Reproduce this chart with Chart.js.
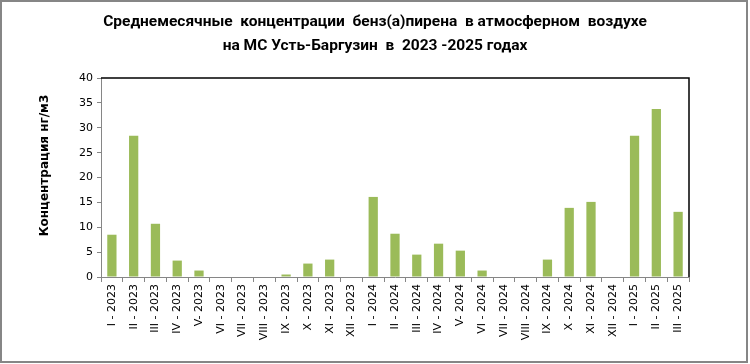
<!DOCTYPE html>
<html lang="ru">
<head>
    <meta charset="UTF-8">
    <title>Бенз(а)пирен Усть-Баргузин</title>
    <script src="https://cdn.jsdelivr.net/npm/chart.js"></script>
    <style>
        html, body { margin: 0; padding: 0; background: #fff; }
        .chart-container { position: relative; width: 750px; height: 364px; }
    </style>
</head>
<body>
    <div class="chart-container">
        <canvas id="bapChart"></canvas>
    </div>

    <script>
        const months = ['I - 2023', 'II - 2023', 'III - 2023', 'IV - 2023', 'V- 2023', 'VI - 2023',
            'VII - 2023', 'VIII - 2023', 'IX - 2023', 'X - 2023', 'XI - 2023', 'XII - 2023',
            'I - 2024', 'II - 2024', 'III - 2024', 'IV - 2024', 'V- 2024', 'VI - 2024',
            'VII - 2024', 'VIII - 2024', 'IX - 2024', 'X - 2024', 'XI - 2024', 'XII - 2024',
            'I - 2025', 'II - 2025', 'III - 2025'];
        const concentration = [8.5, 28.4, 10.7, 3.3, 1.3, 0, 0, 0, 0.5, 2.7, 3.5, 0,
            16.1, 8.7, 4.5, 6.7, 5.3, 1.3, 0, 0, 3.5, 13.9, 15.1, 0,
            28.4, 33.8, 13.1];
        const yTicks = [0, 5, 10, 15, 20, 25, 30, 35, 40];
        const titleLines = ['Среднемесячные  концентрации  бенз(а)пирена  в атмосферном  воздухе',
            'на МС Усть-Баргузин  в  2023 -2025 годах'];
        const yTitle = 'Концентрация нг/м3';

        // plot frame (black top/right), y-axis title and the outer border
        const framePlugin = {
            id: 'frame',
            afterDraw(chart) {
                const { ctx, chartArea: a } = chart;
                ctx.save();
                ctx.strokeStyle = '#000';
                ctx.lineWidth = 1.5;
                ctx.beginPath();
                ctx.moveTo(a.left, a.top);
                ctx.lineTo(a.right, a.top);
                ctx.lineTo(a.right, a.bottom);
                ctx.stroke();

                // axis title sits a bit above the plot centre, like in Excel
                ctx.translate(45, (a.top + a.bottom) / 2 - 12);
                ctx.rotate(-Math.PI / 2);
                ctx.font = 'bold 12px "DejaVu Sans"';
                ctx.fillStyle = '#000';
                ctx.textAlign = 'center';
                ctx.textBaseline = 'middle';
                ctx.fillText(yTitle, 0, 0);
                ctx.setTransform(1, 0, 0, 1, 0, 0);

                ctx.strokeStyle = '#868686';
                ctx.lineWidth = 2;
                ctx.strokeRect(1, 1, 746, 361);
                ctx.restore();
            }
        };

        new Chart(document.getElementById('bapChart'), {
            type: 'bar',
            data: {
                labels: months,
                datasets: [{
                    data: concentration,
                    backgroundColor: '#9bbb59',
                    barPercentage: 0.85,
                    categoryPercentage: 0.5
                }]
            },
            options: {
                responsive: true,
                maintainAspectRatio: false,
                animation: false,
                layout: { padding: 0 },
                plugins: {
                    legend: { display: false },
                    tooltip: { enabled: false },
                    title: {
                        display: true,
                        text: titleLines,
                        color: '#000',
                        font: { family: 'Roboto', size: 15.5, weight: 'bold', lineHeight: 1.55 },
                        padding: { top: 10, bottom: 20 }
                    }
                },
                scales: {
                    x: {
                        grid: {
                            offset: true,
                            drawOnChartArea: false,
                            color: '#868686',
                            tickLength: 5
                        },
                        border: { color: '#868686', width: 1 },
                        ticks: {
                            color: '#000',
                            minRotation: 90,
                            maxRotation: 90,
                            autoSkip: false,
                            padding: 2,
                            font: { family: 'DejaVu Sans', size: 11 }
                        },
                        afterFit(scale) { scale.height = 87; }
                    },
                    y: {
                        min: 0,
                        max: 40,
                        afterBuildTicks(scale) { scale.ticks = yTicks.map(v => ({ value: v })); },
                        grid: {
                            drawOnChartArea: false,
                            color: '#868686',
                            tickLength: 4
                        },
                        border: { color: '#868686', width: 1 },
                        ticks: {
                            color: '#000',
                            padding: 4,
                            font: { family: 'DejaVu Sans', size: 11 }
                        },
                        afterFit(scale) { scale.width = 101; }
                    },
                    // empty right-hand axis that only reserves the white margin
                    yRight: {
                        position: 'right',
                        min: 0,
                        max: 40,
                        grid: { display: false },
                        border: { display: false },
                        ticks: { display: false },
                        afterFit(scale) { scale.width = 61; }
                    }
                }
            },
            plugins: [framePlugin]
        });
    </script>
</body>
</html>
